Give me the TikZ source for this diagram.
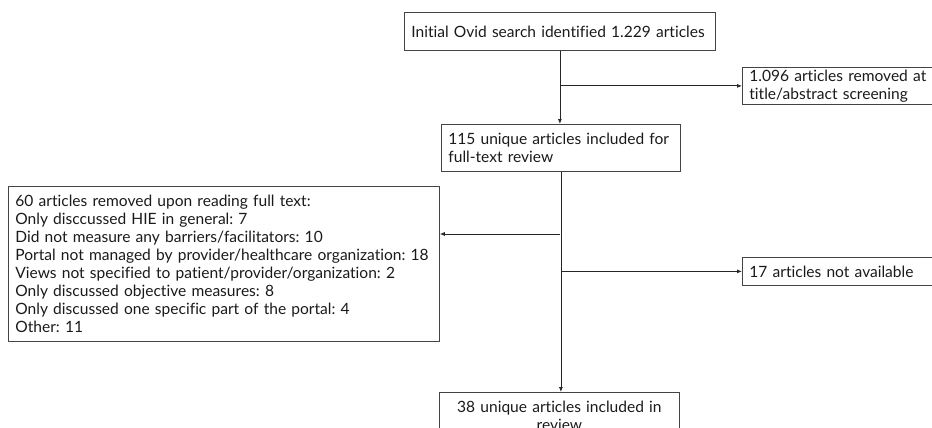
\documentclass[tikz,border=0pt]{standalone}
\usepackage{fontspec}
\setmainfont{Lato}[Ligatures=CommonOff]
\usetikzlibrary{arrows.meta}
\definecolor{boxline}{HTML}{444444}
\definecolor{txt}{HTML}{1A1A1A}
\frenchspacing
\begin{document}
\begin{tikzpicture}[x=1pt,y=-1pt,
  box/.style={draw=boxline, line width=0.8pt, rectangle, anchor=north west,
    inner xsep=7pt, inner ysep=1pt, align=left, text=txt,
    font=\fontsize{15.55}{17.9}\selectfont},
  conn/.style={draw=black!85, line width=0.8pt},
  arr/.style={conn, -{Latex[length=5pt,width=4pt]}}]
\useasboundingbox (0,0) rectangle (932,428);
\node[box, minimum width=311pt, minimum height=38pt, text width=297pt] (b1) at (404,12) {Initial Ovid search identified 1.229 articles};
\node[box, minimum width=200pt, minimum height=37pt, text width=186pt] (b2) at (742,67) {1.096 articles removed at\\title/abstract screening};
\node[box, minimum width=239pt, minimum height=47pt, text width=225pt] (b3) at (441,124) {115 unique articles included for\\full-text review};
\node[box, minimum width=431pt, minimum height=155pt, text width=417pt] (lb) at (8,186) {60 articles removed upon reading full text:\\Only disccussed HIE in general: 7\\Did not measure any barriers/facilitators: 10\\Portal not managed by provider/healthcare organization: 18\\Views not specified to patient/provider/organization: 2\\Only discussed objective measures: 8\\Only discussed one specific part of the portal: 4\\Other: 11};
\node[box, minimum width=200pt, minimum height=28pt, text width=186pt] (b17) at (742,257) {17 articles not available};
\node[box, minimum width=240pt, minimum height=46pt, text width=226pt, align=center] (b4) at (439,392) {38 unique articles included in\\review};
\coordinate (j1) at (560,234);
\draw[arr] (b1.south) -- (b1.south |- b3.north);
\draw[arr] (b1.south |- b2.west) -- (b2.west);
\draw[arr] (b3.south) -- (b3.south |- b4.north);
\draw[arr] (j1) -- (j1 -| lb.east);
\draw[arr] (b3.south |- b17.west) -- (b17.west);
\end{tikzpicture}
\end{document}
